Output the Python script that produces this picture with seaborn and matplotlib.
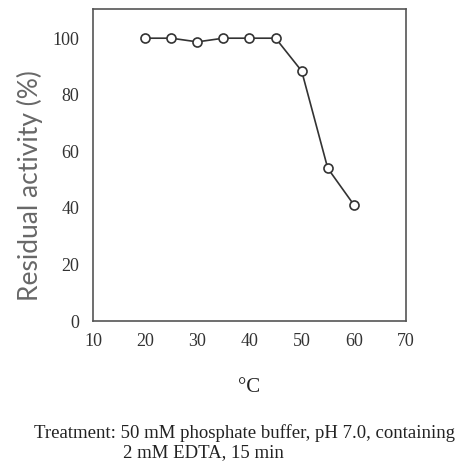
import matplotlib
matplotlib.use("Agg")
import matplotlib.pyplot as plt
import seaborn as sns
import pandas as pd

# temperature treatment (°C) vs residual activity (%)
temps = [20, 25, 30, 35, 40, 45, 50, 55, 60]
activity = [100, 100, 98.7, 100, 100, 100, 88.4, 54.0, 41.1]
x_ticks = [10, 20, 30, 40, 50, 60, 70]
y_ticks = [0, 20, 40, 60, 80, 100]

df = pd.DataFrame({"temp": temps, "activity": activity})

sns.set_style("white")
plt.rcParams["font.family"] = ["Liberation Serif", "DejaVu Serif"]

fig = plt.figure(figsize=(4.64, 4.65), dpi=100)
ax = fig.add_axes([93 / 464, 1 - 321 / 465, 313 / 464, 312.5 / 465])

sns.lineplot(data=df, x="temp", y="activity", ax=ax, color="#333333",
             linewidth=1.2, marker="o", markersize=6.5, markerfacecolor="white",
             markeredgecolor="#333333", markeredgewidth=1.2)

ax.set_xlim(10, 70)
ax.set_ylim(0, 110.5)
ax.set_xticks(x_ticks)
ax.set_yticks(y_ticks)
ax.tick_params(direction="in", length=8, width=1.1, color="#444444",
               labelsize=13, labelcolor="#333333", pad=10)
ax.tick_params(axis="x", pad=9)
for s in ax.spines.values():
    s.set_color("#555555")
    s.set_linewidth(1.2)

ax.set_xlabel("")
ax.set_ylabel("")

fig.text(249 / 464, 1 - 387 / 465, "°C", ha="center", va="center",
         fontsize=15, color="#222222")

fig.text(30 / 464, 1 - 186 / 465, "Residual activity (%)", rotation=90,
         ha="center", va="center", fontsize=19, color="#686868",
         family=["Lato", "DejaVu Sans"], fontweight="normal")

fig.text(245 / 464, 1 - 433 / 465,
         "Treatment: 50 mM phosphate buffer, pH 7.0, containing",
         ha="center", va="center", fontsize=13.5, color="#222222")
fig.text(123 / 464, 1 - 453 / 465, "2 mM EDTA, 15 min",
         ha="left", va="center", fontsize=13.5, color="#222222")

fig.savefig("out.png", dpi=100, facecolor="white")
